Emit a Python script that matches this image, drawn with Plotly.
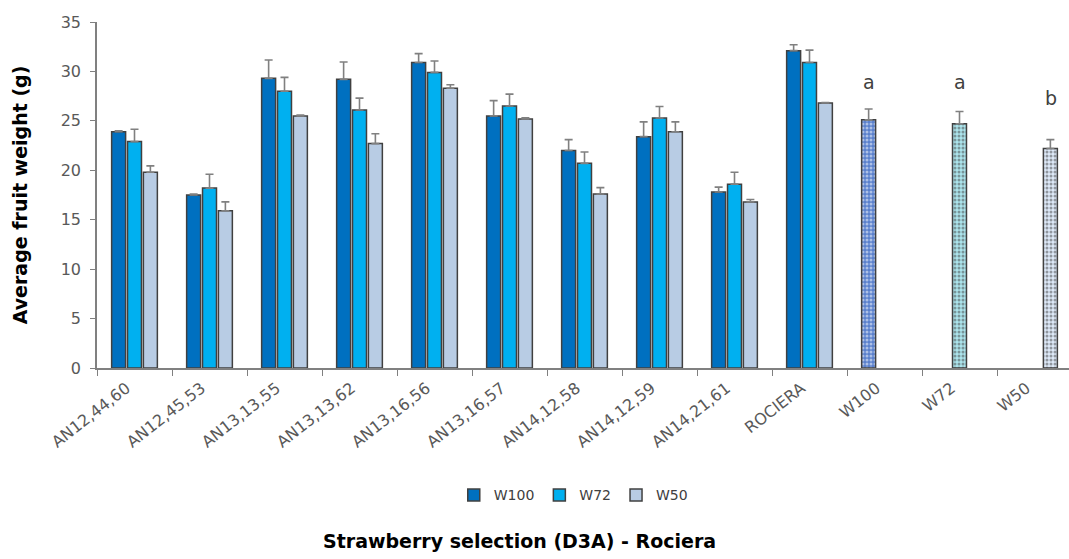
import plotly.graph_objects as go

# Strawberry selections plus the three overall irrigation-treatment means
categories = ["AN12,44,60", "AN12,45,53", "AN13,13,55", "AN13,13,62", "AN13,16,56",
              "AN13,16,57", "AN14,12,58", "AN14,12,59", "AN14,21,61", "ROCIERA",
              "W100", "W72", "W50"]

# Average fruit weight (g) per treatment
w100_values = [23.9, 17.5, 29.3, 29.2, 30.9, 25.5, 22.0, 23.4, 17.8, 32.1, 25.1, None, None]
w72_values = [22.9, 18.2, 28.0, 26.1, 29.9, 26.5, 20.7, 25.3, 18.6, 30.9, None, 24.7, None]
w50_values = [19.8, 15.9, 25.5, 22.7, 28.3, 25.2, 17.6, 23.9, 16.8, 26.8, None, None, 22.2]

# Upper error (standard error)
w100_err = [0.1, 0.1, 1.85, 1.75, 0.9, 1.55, 1.1, 1.5, 0.5, 0.6, 1.1, 0, 0]
w72_err = [1.25, 1.4, 1.4, 1.2, 1.15, 1.2, 1.15, 1.15, 1.2, 1.25, 0, 1.25, 0]
w50_err = [0.65, 0.9, 0.1, 1.0, 0.35, 0.1, 0.65, 1.0, 0.25, 0.05, 0, 0, 0.9]

# Significance letters for the treatment means
letter_cats = ["W100", "W72", "W50"]
letters = ["a", "a", "b"]
letter_y = [28.9, 28.9, 27.3]

series_names = ["W100", "W72", "W50"]
series_colors = ["#0070c0", "#00b0f0", "#b8cce4"]
mean_colors = ["#5a80cc", "#ace4ec", "#dde9f8"]
mean_dots = ["#1d3c8c", "#78c6d4", "#c2d4ec"]

values = [w100_values, w72_values, w50_values]
errors = [w100_err, w72_err, w50_err]

FONT = "DejaVu Sans"

fig = go.Figure()
n = len(categories)
for i, name in enumerate(series_names):
    colors = [series_colors[i]] * n
    shapes = [""] * n
    # the treatment-mean bar gets its own textured fill
    mean_idx = categories.index(name)
    colors[mean_idx] = mean_colors[i]
    shapes[mean_idx] = "."
    fig.add_trace(go.Bar(
        name=name,
        x=categories,
        y=values[i],
        marker=dict(
            color=colors,
            line=dict(color="#404040", width=1.5),
            pattern=dict(shape=shapes, fgcolor=mean_dots[i], size=4, solidity=0.45),
        ),
        error_y=dict(type="data", array=errors[i], arrayminus=[0] * n, symmetric=False,
                     color="#808080", thickness=1.6, width=4),
    ))

slot_shift = {"W100": -16, "W72": 0, "W50": 16}
for cat, txt, yy in zip(letter_cats, letters, letter_y):
    fig.add_annotation(x=cat, y=yy, text=txt, showarrow=False, xshift=slot_shift[cat],
                       yanchor="middle", font=dict(size=19, color="#404040", family=FONT))

fig.add_annotation(xref="paper", yref="paper", x=0.435, y=-0.5, text="<b>Strawberry selection (D3A) - Rociera</b>",
                   showarrow=False, xanchor="center", yanchor="middle",
                   font=dict(size=19, color="#000000", family=FONT))

fig.update_layout(
    width=1069, height=559,
    margin=dict(l=97, r=0, t=22, b=191),
    paper_bgcolor="white", plot_bgcolor="white",
    barmode="group", bargap=0.365, bargroupgap=0.12,
    font=dict(family=FONT, color="#595959"),
    showlegend=True,
    legend=dict(orientation="h", x=0.49, y=-0.368, xanchor="center", yanchor="middle",
                font=dict(size=14, color="#404040"), itemwidth=30, tracegroupgap=0),
    xaxis=dict(
        type="category", range=[-0.5, 12.46],
        showline=True, linecolor="#808080", linewidth=1.5,
        ticks="outside", tickson="boundaries", ticklen=6, tickcolor="#808080",
        tickangle=-38, tickfont=dict(size=16, color="#595959"),
        ticklabelstandoff=3, ticklabelshift=-8,
        showgrid=False, zeroline=False,
    ),
    yaxis=dict(
        range=[0, 35], dtick=5,
        showline=True, linecolor="#808080", linewidth=1.5,
        ticks="outside", ticklen=5, tickcolor="#808080",
        tickfont=dict(size=16, color="#595959"), ticklabelstandoff=6,
        showgrid=False, zeroline=False,
        title=dict(text="<b>Average fruit weight (g)</b>", font=dict(size=19, color="#000000"), standoff=28),
    ),
)

fig.write_html("out.html")
